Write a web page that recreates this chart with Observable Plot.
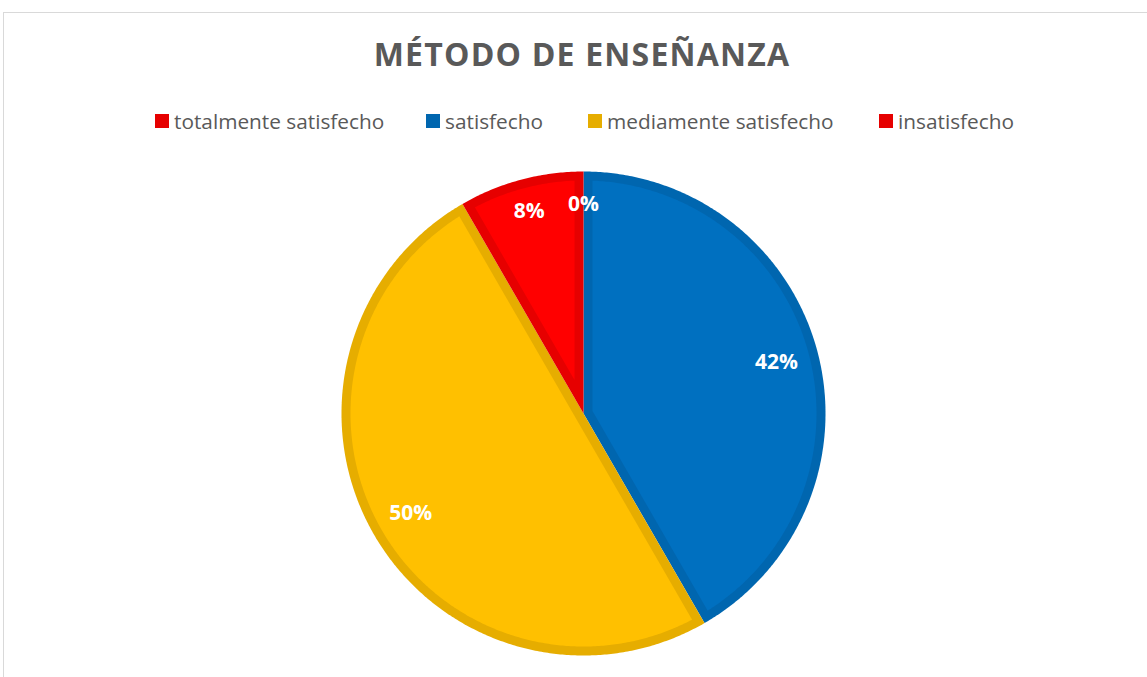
<!DOCTYPE html>
<html><head><meta charset="utf-8">
<script src="https://cdn.jsdelivr.net/npm/d3@7"></script>
<script src="https://cdn.jsdelivr.net/npm/@observablehq/plot@0.6"></script>
<style>
html,body{margin:0;padding:0;background:#fff;overflow:hidden;}
#wrap{position:relative;width:1147px;height:677px;font-family:"Open Sans",sans-serif;}
#frame{position:absolute;left:3px;top:12px;width:1200px;height:700px;border:1px solid #d9d9d9;box-sizing:border-box;}
#title{position:absolute;left:0;top:32px;width:1164px;text-align:center;font-size:32px;font-weight:700;color:#595959;letter-spacing:1.2px;line-height:44px;}
#legend{position:absolute;top:107px;left:0;height:28px;}
.item{position:absolute;top:0;display:flex;align-items:center;font-size:20.8px;color:#595959;line-height:28px;white-space:nowrap;}
.sw{width:14px;height:14px;margin-right:5px;}
#chart{position:absolute;left:0;top:160px;}
</style></head>
<body><div id="wrap"><div id="frame"></div><div id="title">MÉTODO DE ENSEÑANZA</div><div id="legend"></div><div id="chart"></div></div>
<script>
const categories = ["totalmente satisfecho", "satisfecho", "mediamente satisfecho", "insatisfecho"];
const counts = [0, 5, 6, 1];
const fillColors = ["#FF0000", "#0070C0", "#FFC000", "#FF0000"];
const borderColors = ["#E60000", "#0066AF", "#E6AD00", "#E60000"];
const legendX = [155, 426, 588, 879];

// legend
const leg = document.getElementById("legend");
categories.forEach((c, i) => {
  const d = document.createElement("div");
  d.className = "item";
  d.style.left = legendX[i] + "px";
  d.innerHTML = `<span class="sw" style="background:${borderColors[i]}"></span>${c}`;
  leg.appendChild(d);
});

const W = 1147, H = 517, R = 242, cx = 583, cy = 253;
const xDomain = [-cx / R, (W - cx) / R];
const yDomain = [-(H - cy) / R, cy / R];
const total = d3.sum(counts);
const bw = 9 / R;

function pt(a, r) { return {x: r * Math.sin(a), y: r * Math.cos(a)}; }
function arcPts(a0, a1, r) {
  const n = Math.max(2, Math.ceil((a1 - a0) / (Math.PI / 360)));
  return d3.range(n + 1).map(k => pt(a0 + (a1 - a0) * k / n, r));
}

const marks = [];
const labels = [];
let cum = 0;
counts.forEach((v, i) => {
  const a0 = cum / total * 2 * Math.PI;
  cum += v;
  const a1 = cum / total * 2 * Math.PI;
  const share = v / total;
  if (v > 0) {
    const outer = [{x: 0, y: 0}, ...arcPts(a0, a1, 1), {x: 0, y: 0}];
    marks.push(Plot.line(outer, {x: "x", y: "y", fill: borderColors[i], stroke: "none"}));
    const th = a1 - a0;
    const ri = 1 - bw;
    const d = Math.asin(bw / ri);
    let inner = arcPts(a0 + d, a1 - d, ri);
    if (th < Math.PI - 1e-6) {
      const apex = pt((a0 + a1) / 2, bw / Math.sin(th / 2));
      inner = [apex, ...inner, apex];
    }
    marks.push(Plot.line(inner, {x: "x", y: "y", fill: fillColors[i], stroke: "none"}));
  }
  const mid = (a0 + a1) / 2;
  const lr = share < 0.1 ? 0.865 : 0.825;
  const p = pt(mid, lr);
  labels.push({x: p.x, y: p.y, text: Math.round(share * 100) + "%"});
});
marks.push(Plot.text(labels, {x: "x", y: "y", text: "text", fill: "white", fontWeight: "bold", fontSize: 21, fontFamily: "Open Sans"}));

const chart = Plot.plot({
  width: W, height: H,
  margin: 0,
  x: {domain: xDomain, axis: null},
  y: {domain: yDomain, axis: null},
  marks
});
document.getElementById("chart").appendChild(chart);
</script></body></html>
